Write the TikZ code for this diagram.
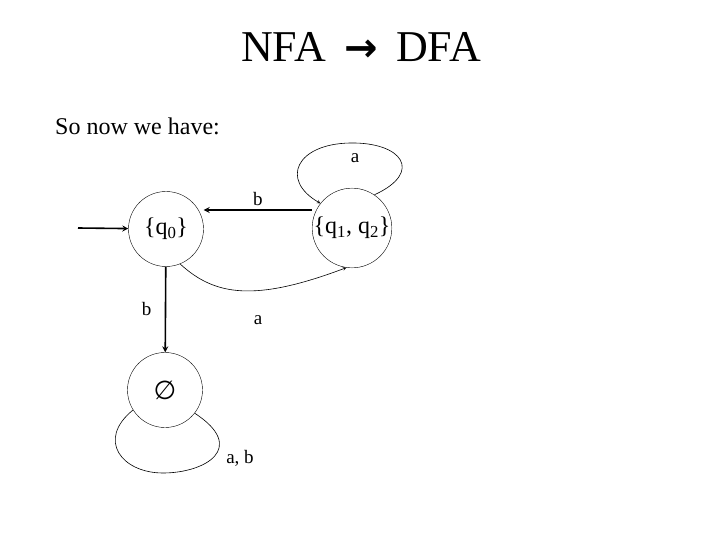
\documentclass[tikz,border=0pt]{standalone}
\usepackage{fontspec}
\setmainfont{Liberation Serif}
\newfontfamily\symfont{DejaVu Sans}
\usetikzlibrary{positioning,arrows}

\begin{document}
\begin{tikzpicture}[x=1pt,y=-1pt,
	state/.style={draw,circle,minimum size=75pt,inner sep=0pt,font=\fontsize{24}{26}\selectfont},
	lbl/.style={font=\fontsize{19}{21}\selectfont},
	trans/.style={->,>=stealth,line width=0.6pt},
	heavy/.style={->,>=stealth,line width=1.6pt}]
	\useasboundingbox (0,0) rectangle (720,540);
	\node[anchor=base,inner sep=0pt,font=\fontsize{44}{46}\selectfont] (title) at (361,62) {NFA\, {\symfont\bfseries\fontsize{40}{42}\selectfont→}\, DFA};
	\node[anchor=base west,inner sep=0pt,font=\fontsize{24}{26}\selectfont] (intro) at (55,135) {So now we have:};

	\node[state] (q0) at (166,229) {\{q\textsubscript{0}\}};
	\node[state] (q12) at (352,228) {\{q\textsubscript{1}, q\textsubscript{2}\}};
	\node[state] (empty) at (165,390) {{\symfont\fontsize{26}{28}\selectfont ∅}};
	\coordinate (start) at (78,228);

	%\node[state, right of=q0] (q12) {$q_{12}$};
	\draw[heavy] (start) -- (q0);
	\draw[heavy] (q12.west |- 0,210) -- (q0.east |- 0,210) node[midway,lbl,above] (lb1) {b};
	\draw[heavy] (q0) -- (empty) node[midway,lbl,left=10pt] (lb2) {b};
	\draw[trans] (q0.-68) .. controls (215,296) and (255,302) .. (q12.-98);
	\node[lbl] (la1) at (258,320) {a};

	\draw[trans] (q12.56) .. controls (424,172) and (402,142) .. (350,143) .. controls (296,144) and (280,180) .. (q12.142);
	\node[lbl] (la2) at (355,158) {a};
	\draw[line width=0.6pt] (empty.212) .. controls (96,440) and (122,473) .. (163,473) .. controls (205,473) and (248,448) .. (empty.-38);
	\node[lbl] (lab) at (240,458) {a, b};
\end{tikzpicture}
\end{document}
